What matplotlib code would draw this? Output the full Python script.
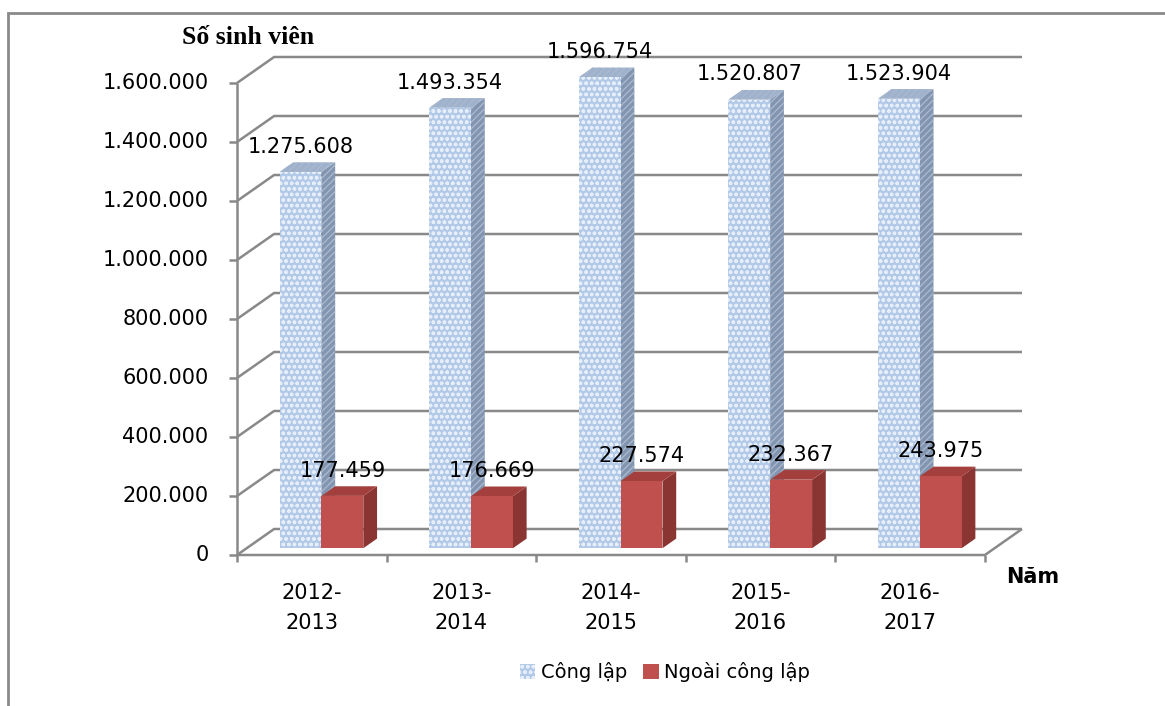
import matplotlib.pyplot as plt
from matplotlib.patches import Polygon, Rectangle, Patch

# data
years = ['2012-\n2013', '2013-\n2014', '2014-\n2015', '2015-\n2016', '2016-\n2017']
cong_lap = [1275608, 1493354, 1596754, 1520807, 1523904]
ngoai_cong_lap = [177459, 176669, 227574, 232367, 243975]
y_ticks = [0, 200000, 400000, 600000, 800000, 1000000, 1200000, 1400000, 1600000]
series_names = ['Công lập', 'Ngoài công lập']


def fmt(v):
    return f'{v:,}'.replace(',', '.')


plt.rcParams['font.family'] = ['DejaVu Sans']
plt.rcParams['hatch.linewidth'] = 1.0
FS = 15

W, H = 1165, 706
fig = plt.figure(figsize=(W / 100, H / 100), dpi=100)
fig.patch.set_facecolor('white')

# outer chart border (only top/left visible in the picture)
fig.patches.append(Rectangle((8 / W, -0.05), 1.2, 1 - 13 / H + 0.05, transform=fig.transFigure,
                             fill=False, edgecolor='#8a8a8a', lw=2))

# plot area: front floor corner at (237, 555) px, back top corner (1022, 57) px
ax = fig.add_axes([237 / W, 1 - 555 / H, (1022 - 237) / W, (555 - 57) / H])
DX = 37 / 149.2               # depth offset in category units
DY = 26 / 59 * 200000         # depth offset in value units
ax.set_xlim(0, len(years) + DX)
ax.set_ylim(0, y_ticks[-1] + DY)
ax.axis('off')

grid_kw = dict(color='#898989', lw=1.8, solid_capstyle='butt', clip_on=False, zorder=1)
n = len(years)
for t in y_ticks:
    ax.plot([0, DX, n + DX], [t, t + DY, t + DY], **grid_kw)
    ax.plot([-0.055, 0], [t, t], **grid_kw)
    ax.text(-0.19, t, fmt(t), ha='right', va='center', fontsize=FS)
# floor and axes
ax.plot([0, n, n + DX], [0, 0, DY], **grid_kw)
ax.plot([0, 0], [0, y_ticks[-1]], **grid_kw)
for i in range(n + 1):
    ax.plot([i, i], [0, -24000], **grid_kw)

# bars
w = 0.28
gap = (1 - 2 * w) / 2
F0, FD = 0.26, 0.37
styles = [
    dict(front='#b3c9e8', side='#8295b0', top='#9fb2cd', hatch='ooo', hfront='#e6eef9', hside='#a9b8cc'),
    dict(front='#c0504d', side='#8b3533', top='#a3403d', hatch=None, hfront='#c0504d', hside='#8b3533'),
]
z = 3
for i in range(n):
    for k, vals in enumerate([cong_lap, ngoai_cong_lap]):
        st = styles[k]
        v = vals[i]
        x0 = i + gap + k * w + F0 * DX
        y0 = F0 * DY
        ex, ey = FD * DX, FD * DY
        side = Polygon([(x0 + w, y0), (x0 + w + ex, y0 + ey), (x0 + w + ex, y0 + v + ey), (x0 + w, y0 + v)],
                       facecolor=st['side'], edgecolor=st['hside'], lw=0,
                       hatch='/////' if st['hatch'] else None, zorder=z)
        top = Polygon([(x0, y0 + v), (x0 + w, y0 + v), (x0 + w + ex, y0 + v + ey), (x0 + ex, y0 + v + ey)],
                      facecolor=st['top'], edgecolor=st['hside'], lw=0,
                      hatch='/////' if st['hatch'] else None, zorder=z)
        ax.add_patch(side)
        ax.add_patch(top)
        ax.bar(x0, v, width=w, bottom=y0, align='edge', color=st['front'],
               edgecolor=st['hfront'], lw=0, hatch=st['hatch'], zorder=z + 0.5)
        ax.annotate(fmt(v), (x0 + w / 2, y0 + v + ey), xytext=(0, 4), textcoords='offset points',
                    ha='center', va='bottom', fontsize=FS, zorder=100)
        z += 1

# category labels
for i, lab in enumerate(years):
    ax.annotate(lab, (i + 0.5, 0), xytext=(0, -20), textcoords='offset points',
                ha='center', va='top', fontsize=FS, linespacing=1.65)

fig.text(1033 / W, 1 - 577 / H, 'Năm', ha='center', va='center', fontsize=FS, fontweight='bold')
fig.text(248 / W, 1 - 37 / H, 'Số sinh viên', ha='center', va='center', fontsize=18.5,
         fontweight='bold', family=['Liberation Serif', 'DejaVu Serif'])

handles = [Patch(facecolor=styles[0]['front'], edgecolor=styles[0]['hfront'], lw=0, hatch='ooo'),
           Patch(facecolor=styles[1]['front'], lw=0)]
fig.legend(handles, series_names, loc='center', bbox_to_anchor=(665 / W, 1 - 672 / H), ncol=2,
           frameon=False, fontsize=14, handlelength=0.8, handleheight=0.8, handletextpad=0.3,
           columnspacing=0.8)

fig.savefig('out.png', dpi=100)
